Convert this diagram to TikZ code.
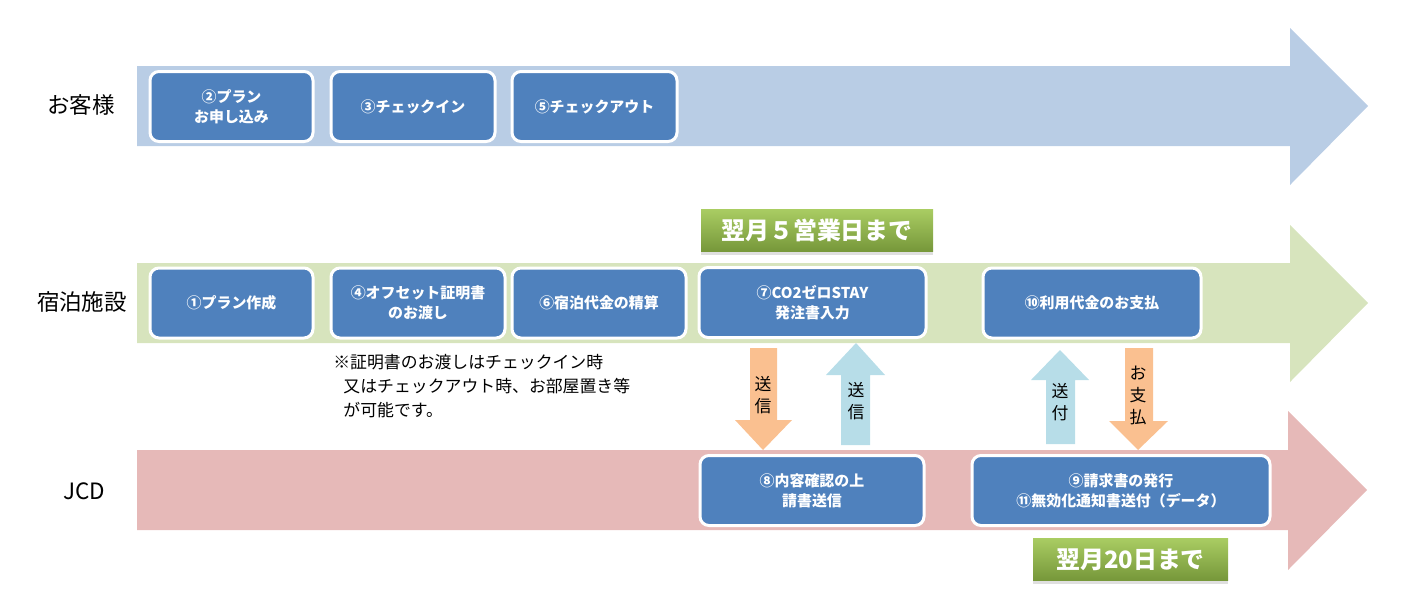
\documentclass[tikz,border=0pt]{standalone}
\usepackage{fontspec}
\setmainfont{Noto Sans CJK JP}
\usetikzlibrary{positioning,shadows}
\newdimen\pxu \pxu=0.02cm
\definecolor{kyakuband}{HTML}{B9CDE5}
\definecolor{shukuband}{HTML}{D7E4BD}
\definecolor{jcdband}{HTML}{E6B9B8}
\definecolor{stepblue}{HTML}{4F81BD}
\definecolor{sendorange}{HTML}{FAC090}
\definecolor{sendblue}{HTML}{B7DDE8}
\definecolor{limitgreenA}{HTML}{A9CC62}
\definecolor{limitgreenB}{HTML}{76973A}

\begin{document}
\begin{tikzpicture}[x=0.02cm,y=-0.02cm,
    stepbox/.style={draw=white,line width=3\pxu,fill=stepblue,rounded corners=9\pxu,
        text=white,font=\bfseries\fontsize{8.5}{11.3}\selectfont,align=center,
        minimum height=70\pxu,inner sep=0pt},
    limitbox/.style={top color=limitgreenA,bottom color=limitgreenB,
        drop shadow={opacity=0.25,shadow xshift=0pt,shadow yshift=-3\pxu},
        text=white,font=\bfseries\fontsize{13.6}{15}\selectfont,minimum height=42\pxu,inner sep=0pt},
    lanelabel/.style={font=\fontsize{12.8}{14}\selectfont},
    sendlabel/.style={font=\fontsize{9.6}{12.5}\selectfont,align=center,inner sep=0pt}]
    \useasboundingbox (0,0) rectangle (1410,613);

    % lanes
    \fill[kyakuband] (137,66) -- (1290,66) -- (1290,28) -- (1368,106) -- (1290,185) -- (1290,146) -- (137,146) -- cycle;
    \fill[shukuband] (137,263) -- (1290,263) -- (1290,225) -- (1368,303) -- (1290,382) -- (1290,343) -- (137,343) -- cycle;
    \fill[jcdband] (137,450) -- (1288,450) -- (1288,411) -- (1367,490) -- (1288,570) -- (1288,530) -- (137,530) -- cycle;

    \node[lanelabel] (kyaku) at (81,105) {お客様};
    \node[lanelabel] (shuku) at (82,302) {宿泊施設};
    \node[lanelabel] (jcd) at (84,491) {JCD};

    % お客様
    \node[stepbox,minimum width=163\pxu] (plan) at (231.5,106.5) {②プラン\\お申し込み};
    \node[stepbox,minimum width=164\pxu] (checkin) at (413,106.5) {③チェックイン};
    \node[stepbox,minimum width=165\pxu] (checkout) at (594.5,106.5) {⑤チェックアウト};

    % 宿泊施設
    \node[stepbox,minimum width=163\pxu] (create) at (231.5,303) {①プラン作成};
    \node[stepbox,minimum width=174\pxu] (cert) at (418,303) {④オフセット証明書\\のお渡し};
    \node[stepbox,minimum width=174\pxu] (settle) at (599,303) {⑥宿泊代金の精算};
    \node[stepbox,minimum width=227\pxu] (order) at (812.5,302.5) {⑦CO2ゼロSTAY\\発注書入力};
    \node[stepbox,minimum width=218\pxu] (pay) at (1092,303) {⑩利用代金のお支払};

    % JCD
    \node[stepbox,minimum width=224\pxu] (confirm) at (812,490.5) {⑧内容確認の上\\請書送信};
    \node[stepbox,minimum width=298\pxu] (invoice) at (1121,490.5) {⑨請求書の発行\\⑪無効化通知書送付（データ）};

    \node[limitbox,minimum width=232\pxu] (limitA) at (817,230.5) {翌月５営業日まで};
    \node[limitbox,minimum width=195\pxu] (limitB) at (1130.5,559.5) {翌月20日まで};

    \node[anchor=north west,align=left,inner sep=0pt,font=\fontsize{9.6}{13.6}\selectfont] (note) at (333,354)
        {※証明書のお渡しはチェックイン時\\\hspace*{0.6em}又はチェックアウト時、お部屋置き等\\\hspace*{0.6em}が可能です。};

    % block arrows
    \fill[sendorange] (750,348) -- (777,348) -- (777,420) -- (792,420) -- (763,450) -- (735,420) -- (750,420) -- cycle;
    \fill[sendblue] (841,445) -- (870,445) -- (870,375) -- (885,375) -- (856,343) -- (826,375) -- (841,375) -- cycle;
    \fill[sendblue] (1046,444) -- (1075,444) -- (1075,380) -- (1089,380) -- (1060,350) -- (1031,380) -- (1046,380) -- cycle;
    \fill[sendorange] (1125,348) -- (1153,348) -- (1153,421) -- (1168,421) -- (1138,450) -- (1109,421) -- (1125,421) -- cycle;

    \node[sendlabel] (sendA) at (763,395) {送\\信};
    \node[sendlabel] (sendB) at (856,401) {送\\信};
    \node[sendlabel] (sendC) at (1060,402) {送\\付};
    \node[sendlabel] (sendD) at (1138,395) {お\\支\\払};
\end{tikzpicture}
\end{document}
